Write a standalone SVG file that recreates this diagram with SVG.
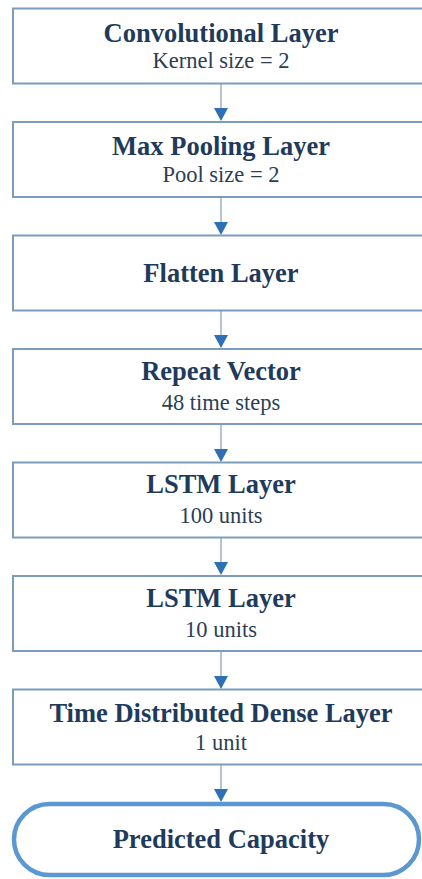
<svg xmlns="http://www.w3.org/2000/svg" width="422" height="879" viewBox="0 0 422 879">
<style>
.box{fill:#ffffff;stroke:#7b9cbb;stroke-width:2}
.pill{fill:#ffffff;stroke:#5b97d0;stroke-width:4.5}
.t{font-weight:bold;font-size:26.5px;fill:#1f3b5c;text-anchor:middle}
.s{font-size:22.5px;fill:#2a3f55;text-anchor:middle}
.ln{stroke:#7f9fba;stroke-width:1.2;fill:none}
.ah{fill:#2e6fb5}
</style>
<rect width="422" height="879" fill="#ffffff"/>
<g id="connectors">
<line class="ln" x1="221" y1="84" x2="221" y2="112"/><polygon class="ah" points="214,108 228,108 221,121"/>
<line class="ln" x1="221" y1="197" x2="221" y2="225"/><polygon class="ah" points="214,222 228,222 221,235"/>
<line class="ln" x1="221" y1="311" x2="221" y2="339"/><polygon class="ah" points="214,335 228,335 221,348"/>
<line class="ln" x1="221" y1="424" x2="221" y2="452"/><polygon class="ah" points="214,449 228,449 221,462"/>
<line class="ln" x1="221" y1="538" x2="221" y2="566"/><polygon class="ah" points="214,562 228,562 221,575"/>
<line class="ln" x1="221" y1="651" x2="221" y2="679"/><polygon class="ah" points="214,676 228,676 221,689"/>
<line class="ln" x1="221" y1="765" x2="221" y2="793"/><polygon class="ah" points="214,789 228,789 221,802"/>
</g>
<g font-family="'Liberation Serif', 'DejaVu Serif', 'Times New Roman', serif">
<g id="conv"><rect class="box" x="13" y="8.5" width="416" height="75"/>
<text class="t" x="221" y="42">Convolutional Layer</text><text class="s" x="221" y="68">Kernel size = 2</text></g>
<g id="maxpool"><rect class="box" x="13" y="122" width="416" height="75"/>
<text class="t" x="221" y="155">Max Pooling Layer</text><text class="s" x="221" y="182">Pool size = 2</text></g>
<g id="flatten"><rect class="box" x="13" y="235.5" width="416" height="75"/>
<text class="t" x="221" y="282">Flatten Layer</text></g>
<g id="repeat"><rect class="box" x="13" y="349" width="416" height="75"/>
<text class="t" x="221" y="380">Repeat Vector</text><text class="s" x="221" y="410">48 time steps</text></g>
<g id="lstm1"><rect class="box" x="13" y="462.5" width="416" height="75"/>
<text class="t" x="221" y="493">LSTM Layer</text><text class="s" x="221" y="523">100 units</text></g>
<g id="lstm2"><rect class="box" x="13" y="576" width="416" height="75"/>
<text class="t" x="221" y="607">LSTM Layer</text><text class="s" x="221" y="637">10 units</text></g>
<g id="dense"><rect class="box" x="13" y="689.5" width="416" height="75"/>
<text class="t" x="221" y="722">Time Distributed Dense Layer</text><text class="s" x="221" y="750">1 unit</text></g>
<g id="output"><rect class="pill" x="14" y="804" width="405" height="71" rx="35.5" ry="35.5"/>
<text class="t" x="221" y="848">Predicted Capacity</text></g>
</g>
</svg>
